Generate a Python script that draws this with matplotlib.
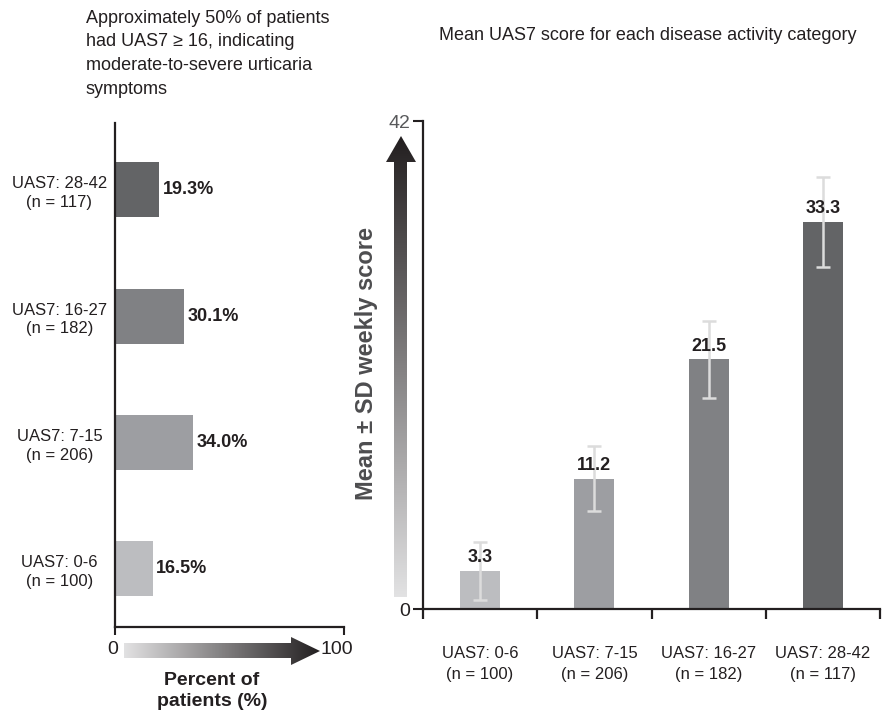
import numpy as np
import matplotlib.pyplot as plt
from matplotlib.patches import Polygon
from matplotlib.colors import LinearSegmentedColormap

plt.rcParams['font.family'] = ['Liberation Sans', 'DejaVu Sans']
TXT = '#231f20'

# data
categories = ['UAS7: 0-6\n(n = 100)', 'UAS7: 7-15\n(n = 206)',
              'UAS7: 16-27\n(n = 182)', 'UAS7: 28-42\n(n = 117)']
pct_patients = [16.5, 34.0, 30.1, 19.3]
mean_score = [3.3, 11.2, 21.5, 33.3]
sd_score = [2.5, 2.8, 3.3, 3.9]
bar_colors = ['#bcbdc0', '#9d9ea2', '#808184', '#636466']

W, H = 885, 714
fig = plt.figure(figsize=(W / 100, H / 100), dpi=100)


def fx(px):
    return px / W


def fy(py):
    return 1 - py / H


# ---- left: horizontal bars ----
ax1 = fig.add_axes([fx(115), fy(627), fx(344) - fx(115), fy(123) - fy(627)])
ypos = np.arange(len(categories))
ax1.barh(ypos, pct_patients, height=0.435, color=bar_colors)
for y, v in zip(ypos, pct_patients):
    ax1.text(v + 1.5, y, f'{v:.1f}%', va='center', ha='left',
             fontsize=13, fontweight='bold', color=TXT)
ax1.set_xlim(0, 100)
ax1.set_ylim(-0.46, 3.53)
ax1.set_yticks(ypos)
ax1.set_yticklabels(categories, ha='center', fontsize=12, color=TXT, linespacing=1.3)
ax1.tick_params(axis='y', length=0, pad=40)
ax1.set_xticks([0, 100])
ax1.set_xticklabels(['', ''])
ax1.tick_params(axis='x', length=6, width=1.5, direction='out', color=TXT)
for s in ['top', 'right']:
    ax1.spines[s].set_visible(False)
for s in ['left', 'bottom']:
    ax1.spines[s].set_linewidth(1.6)
    ax1.spines[s].set_color(TXT)

# ---- right: vertical bars with SD ----
ax2 = fig.add_axes([fx(423), fy(609), fx(880) - fx(423), fy(121) - fy(609)])
xpos = np.arange(len(categories))
ax2.bar(xpos, mean_score, width=0.35, color=bar_colors, zorder=1)
ax2.errorbar(xpos, mean_score, yerr=sd_score, fmt='none', ecolor='#dcdcdc',
             elinewidth=1.8, capsize=5, capthick=1.8, zorder=2)
for x, v in zip(xpos, mean_score):
    ax2.text(x, v + 0.4, f'{v:.1f}', ha='center', va='bottom',
             fontsize=13, fontweight='bold', color=TXT, zorder=3)
ax2.set_xlim(-0.5, 3.5)
ax2.set_ylim(0, 42)
ax2.set_yticks([0, 42])
ax2.set_yticklabels(['0', '42'], fontsize=14, color=TXT)
ax2.get_yticklabels()[1].set_color('#58595b')
ax2.tick_params(axis='y', length=7, width=1.5, color=TXT, pad=2)
ax2.set_xticks(xpos)
ax2.set_xticklabels(categories, fontsize=12, color=TXT, linespacing=1.45)
ax2.set_xticks(np.arange(-0.5, 4.0, 1.0), minor=True)
ax2.tick_params(axis='x', which='major', length=0, pad=27)
ax2.tick_params(axis='x', which='minor', length=7, width=1.6, color=TXT)
for s in ['top', 'right']:
    ax2.spines[s].set_visible(False)
for s in ['left', 'bottom']:
    ax2.spines[s].set_linewidth(1.6)
    ax2.spines[s].set_color(TXT)

# ---- overlay for gradient arrows and free text ----
ov = fig.add_axes([0, 0, 1, 1], zorder=-1)
ov.set_xlim(0, W)
ov.set_ylim(H, 0)
ov.axis('off')

cmap_g = LinearSegmentedColormap.from_list('g', ['#e2e2e3', '#231f20'])
grad_h = np.linspace(0, 1, 256).reshape(1, -1)
im = ov.imshow(grad_h, cmap=cmap_g, extent=[124, 320, 665, 637], aspect='auto')
arrow_h = Polygon([(124, 643), (291, 643), (291, 637), (320, 651), (291, 665),
                   (291, 658), (124, 658)], closed=True, fc='none', ec='none')
ov.add_patch(arrow_h)
im.set_clip_path(arrow_h)

grad_v = np.linspace(1, 0, 256).reshape(-1, 1)
im2 = ov.imshow(grad_v, cmap=cmap_g, extent=[386, 416, 597, 136], aspect='auto')
arrow_v = Polygon([(394, 597), (394, 162), (386, 162), (401, 136), (416, 162),
                   (407, 162), (407, 597)], closed=True, fc='none', ec='none')
ov.add_patch(arrow_v)
im2.set_clip_path(arrow_v)

fig.text(fx(113), fy(650), '0', ha='center', va='center', fontsize=14, color=TXT)
fig.text(fx(321), fy(650), '100', ha='left', va='center', fontsize=14, color=TXT)
fig.text(fx(212), fy(691), 'Percent of\npatients (%)', ha='center', va='center',
         fontsize=14, fontweight='bold', color=TXT, linespacing=1.3)

fig.text(fx(86), fy(10), 'Approximately 50% of patients\nhad UAS7 \u2265 16, indicating\n'
         'moderate-to-severe urticaria\nsymptoms', ha='left', va='top',
         fontsize=13, color=TXT, linespacing=1.5)
fig.text(fx(648), fy(35), 'Mean UAS7 score for each disease activity category',
         ha='center', va='center', fontsize=13, color=TXT)
fig.text(fx(367), fy(364), 'Mean \u00b1 SD weekly score', rotation=90,
         ha='center', va='center', fontsize=17, fontweight='bold', color='#4d4d4f')

fig.savefig('out.png', dpi=100)
